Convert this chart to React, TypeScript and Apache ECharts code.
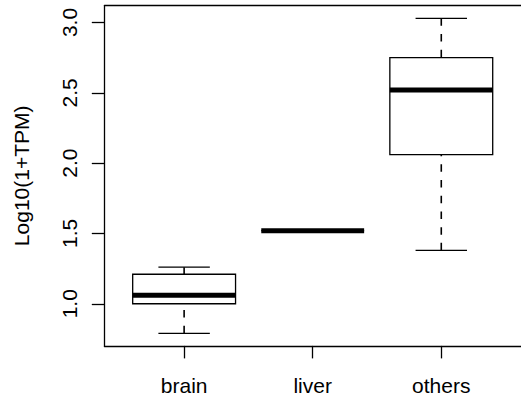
import React, { useEffect, useRef } from "react";
import * as echarts from "echarts";

const categories = ["brain", "liver", "others"];
const positions = [1, 2, 3];
const lowWhisker = [0.79, 1.52, 1.38];
const lowerQuartile = [1.0, 1.52, 2.06];
const medians = [1.06, 1.52, 2.52];
const upperQuartile = [1.21, 1.52, 2.75];
const highWhisker = [1.26, 1.52, 3.03];
const yTicks = [1.0, 1.5, 2.0, 2.5, 3.0];
const yTitle = "Log10(1+TPM)";

const FONT = "'Liberation Sans', Arial, Helvetica, sans-serif";
const FS = 21;
const LW = 1.3;

export default function App() {
  const ref = useRef<HTMLDivElement>(null);
  useEffect(() => {
    document.body.style.margin = "0";
    const chart = echarts.init(ref.current!, null, { renderer: "svg" });
    const lo = Math.min(...lowWhisker);
    const hi = Math.max(...highWhisker);
    const ext = (hi - lo) * 0.04;
    const data = positions.map((p, i) => [
      p,
      lowWhisker[i],
      lowerQuartile[i],
      medians[i],
      upperQuartile[i],
      highWhisker[i],
    ]);
    const renderItem = (params: any, api: any) => {
      const x = api.value(0);
      const lw = api.coord([x, api.value(1)]);
      const q1 = api.coord([x, api.value(2)]);
      const md = api.coord([x, api.value(3)]);
      const q3 = api.coord([x, api.value(4)]);
      const hw = api.coord([x, api.value(5)]);
      const boxW = api.size([0.8, 0])[0];
      const stapleW = api.size([0.4, 0])[0];
      const cx = lw[0];
      const stroke = { stroke: "#000", lineWidth: LW, fill: null };
      return {
        type: "group",
        children: [
          {
            type: "rect",
            shape: { x: cx - boxW / 2, y: q3[1], width: boxW, height: q1[1] - q3[1] },
            style: { stroke: "#000", lineWidth: LW, fill: "rgba(0,0,0,0)" },
          },
          {
            type: "line",
            shape: { x1: cx - boxW / 2, y1: md[1], x2: cx + boxW / 2, y2: md[1] },
            style: { stroke: "#000", lineWidth: 5 },
          },
          {
            type: "line",
            shape: { x1: cx, y1: hw[1], x2: cx, y2: q3[1] },
            style: { ...stroke, lineDash: [7.5, 8.2], lineWidth: 1.6 },
          },
          {
            type: "line",
            shape: { x1: cx, y1: lw[1], x2: cx, y2: q1[1] },
            style: { ...stroke, lineDash: [7.5, 8.2], lineWidth: 1.6 },
          },
          {
            type: "line",
            shape: { x1: cx - stapleW / 2, y1: hw[1], x2: cx + stapleW / 2, y2: hw[1] },
            style: stroke,
          },
          {
            type: "line",
            shape: { x1: cx - stapleW / 2, y1: lw[1], x2: cx + stapleW / 2, y2: lw[1] },
            style: stroke,
          },
        ],
      };
    };
    chart.setOption({
      animation: false,
      backgroundColor: "#fff",
      grid: { left: 104.4, top: 5.7, width: 417, height: 340.2 },
      xAxis: [
        {
          type: "value",
          min: 0.38,
          max: 3.62,
          axisLine: { show: true, onZero: false, lineStyle: { color: "#000", width: LW } },
          axisTick: {
            show: true,
            length: 12.5,
            customValues: positions,
            lineStyle: { color: "#000", width: LW },
          },
          axisLabel: {
            customValues: positions,
            formatter: (v: number) => categories[Math.round(v) - 1] ?? "",
            color: "#000",
            fontFamily: FONT,
            fontSize: FS,
            margin: 29,
          },
          splitLine: { show: false },
        },
        {
          type: "value",
          position: "top",
          min: 0.38,
          max: 3.62,
          axisLine: { show: true, onZero: false, lineStyle: { color: "#000", width: LW } },
          axisTick: { show: false },
          axisLabel: { show: false },
          splitLine: { show: false },
        },
      ],
      yAxis: {
        type: "value",
        min: lo - ext,
        max: hi + ext,
        name: yTitle,
        nameLocation: "middle",
        nameRotate: 90,
        nameGap: 72,
        nameTextStyle: { color: "#000", fontFamily: FONT, fontSize: FS },
        axisLine: { show: true, onZero: false, lineStyle: { color: "#000", width: LW } },
        axisTick: {
          show: true,
          length: 12.6,
          customValues: yTicks,
          lineStyle: { color: "#000", width: LW },
        },
        axisLabel: {
          customValues: yTicks,
          rotate: 90,
          formatter: (v: number) => v.toFixed(1),
          color: "#000",
          fontFamily: FONT,
          fontSize: FS,
          margin: 24,
        },
        splitLine: { show: false },
      },
      series: [
        {
          type: "custom",
          renderItem,
          data,
          encode: { x: 0, y: [1, 2, 3, 4, 5] },
          clip: false,
        },
      ],
    });
    return () => chart.dispose();
  }, []);
  return (
    <div
      ref={ref}
      style={{ width: 521, height: 396, position: "absolute", left: 0, top: 0 }}
    />
  );
}
